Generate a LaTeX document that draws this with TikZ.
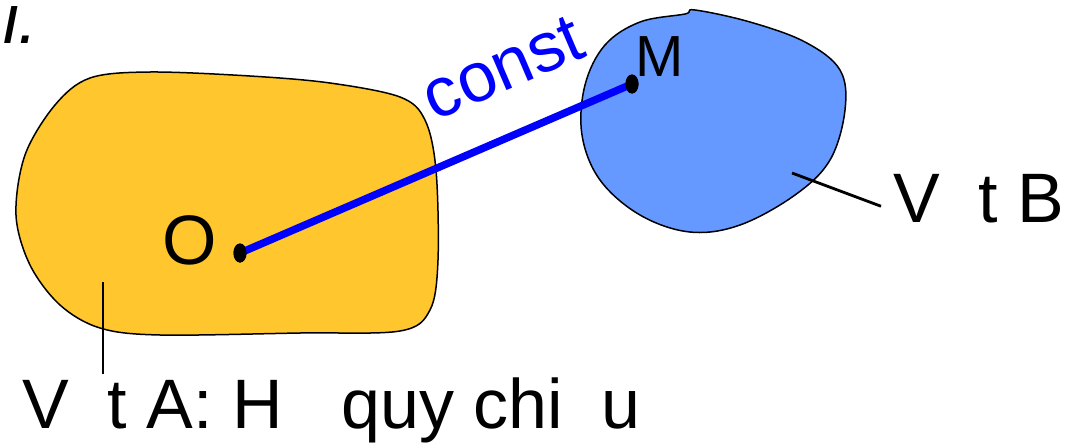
\documentclass[tikz,border=0pt]{standalone}
\usepackage{fontspec}
\setmainfont{Liberation Sans}
\usetikzlibrary{positioning,shapes.geometric}
\definecolor{bodyA}{RGB}{255,198,46}
\definecolor{bodyB}{RGB}{102,153,255}
\definecolor{rod}{RGB}{0,0,255}
\tikzset{
  blob/.style={draw=black,line width=1.5pt},
  lab/.style={font=\fontsize{70}{84}\selectfont,inner sep=0pt},
  pin/.style={line width=2.8pt},
  dot/.style={ellipse,fill=black,minimum width=13pt,minimum height=19pt,inner sep=0pt},
}
\begin{document}
\begin{tikzpicture}[x=1pt,y=-1pt]
\useasboundingbox (0,0) rectangle (1065,442);
% body A
\draw[blob,fill=bodyA] plot[smooth cycle,tension=0.55] coordinates {
  (150,72) (250,76) (330,83) (400,97) (425,120) (436,170) (438,260) (430,310)
  (400,331) (300,333) (160,335) (100,328) (60,305) (30,265) (16,215) (25,155) (55,105) (90,78)};
% body B
\draw[blob,fill=bodyB] plot[smooth cycle,tension=0.6] coordinates {
  (695,10) (750,22) (805,42) (840,70) (845,110) (830,160) (795,195) (740,225)
  (690,232) (640,215) (600,180) (582,135) (585,85) (605,45) (640,22) (685,14)};
% points and rod
\node[dot] (dotO) at (240,253) {};
\node[dot] (dotM) at (632,84) {};
\draw[rod,line width=7.5pt] (dotO.center) -- (dotM.center);
\node[dot] at (dotO) {};
\node[dot] at (dotM) {};
\node[lab] (labO) at (190,240) {O};
\node[font=\fontsize{58}{70}\selectfont,inner sep=0pt] (labM) at (660,57) {M};
\node[lab,text=rod,rotate=23.2] (labC) at (503,68) {const};
% labels with pointers
\node[lab,anchor=base west] (labI) at (3,43) {\itshape i.};
\node[lab,anchor=base west] (labA) at (22,428) {V\phantom{a}t A: H\phantom{e} quy chi\phantom{e}u};
\node[lab,anchor=base west] (labB) at (893,222) {V\phantom{a}t B};
\coordinate (pA) at (103,282);
\coordinate (pB) at (792,173);
\draw[pin] (pA) -- ([yshift=3pt]labA.north -| pA);
\draw[pin] (pB) -- ([shift={(-12,8)}]labB.west);
\end{tikzpicture}
\end{document}
